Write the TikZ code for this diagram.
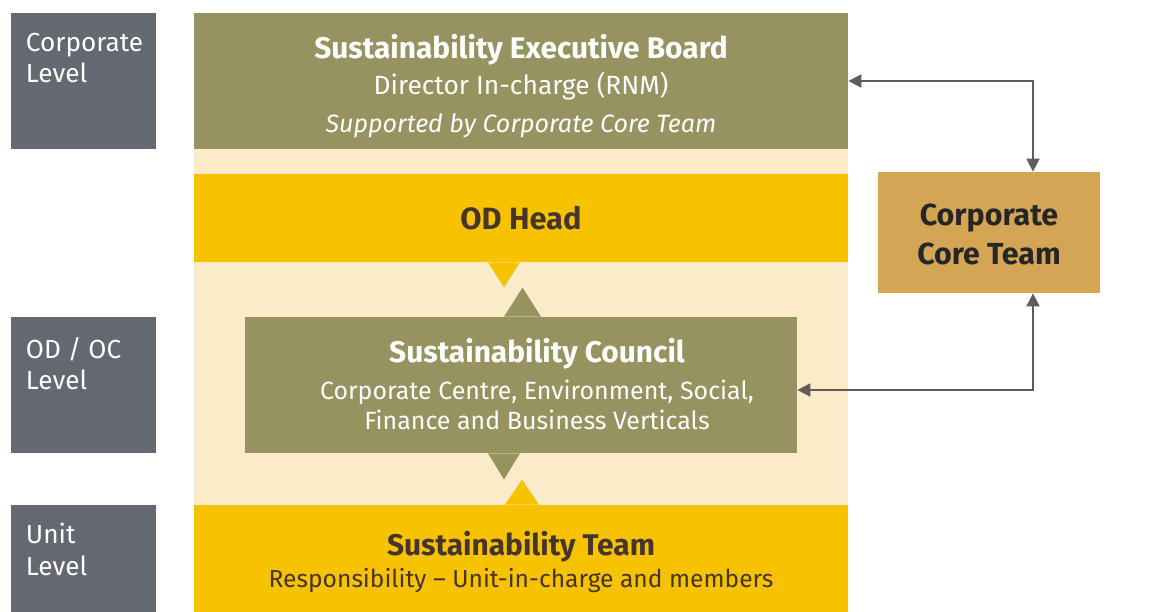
\documentclass[tikz,border=0pt]{standalone}
\usepackage{fontspec}
\setmainfont{Fira Sans}
\usetikzlibrary{arrows.meta,positioning}

\definecolor{olive}{HTML}{979360}
\definecolor{gold}{HTML}{F7C300}
\definecolor{cream}{HTML}{FBEBC8}
\definecolor{slate}{HTML}{646870}
\definecolor{ochre}{HTML}{D4A554}
\definecolor{arrowgrey}{HTML}{5F5C5C}
\definecolor{darkbrown}{HTML}{46352A}

\begin{document}
\begin{tikzpicture}[
    level/.style={rectangle,fill=slate,minimum width=2.9cm,inner sep=0pt},
    leveltext/.style={anchor=north west,inner sep=0pt,text=white,align=left,font=\fontsize{14.9}{18}\selectfont},
    olivebox/.style={rectangle,fill=olive,inner sep=0pt},
    goldbox/.style={rectangle,fill=gold,inner sep=0pt},
    whitetext/.style={inner sep=0pt,text=white,align=center},
    browntext/.style={inner sep=0pt,text=darkbrown,align=center},
    link/.style={draw=arrowgrey,line width=1.1pt,{Triangle[length=0.26cm,width=0.26cm]}-{Triangle[length=0.26cm,width=0.26cm]}}
  ]
    \useasboundingbox (0,0) rectangle (23.02,-12.24);

    % Level labels
    \node[level,minimum height=2.72cm] (corp) at (1.67,-1.62) {};
    \node[level,minimum height=2.72cm] (odoc) at (1.67,-7.7) {};
    \node[level,minimum height=2.14cm] (unit) at (1.67,-11.17) {};
    \node[leveltext] (corpT) at ([xshift=0.3cm,yshift=-0.4cm]corp.north west) {Corporate\\Level};
    \node[leveltext] (odocT) at ([xshift=0.3cm,yshift=-0.4cm]odoc.north west) {OD / OC\\Level};
    \node[leveltext] (unitT) at ([xshift=0.3cm,yshift=-0.36cm]unit.north west) {Unit\\Level};

    % Background band
    \node[rectangle,fill=cream,minimum width=13.08cm,minimum height=7.4cm,inner sep=0pt] (band) at (10.42,-6.44) {};

    % Corporate level
    \node[olivebox,minimum width=13.08cm,minimum height=2.72cm] (board) at (10.42,-1.62) {};
    \node[whitetext,font=\fontsize{14}{20.4}\selectfont] (boardT) at ([yshift=-0.1cm]board.center)
      {{\fontsize{17}{20}\selectfont\bfseries Sustainability Executive Board}\\
       {\fontsize{15}{18}\selectfont Director In-charge (RNM)}\\[1pt]
       {\fontsize{14.3}{18}\selectfont\itshape Supported by Corporate Core Team}};

    % OD / OC level
    \node[goldbox,minimum width=13.08cm,minimum height=1.76cm] (odhead) at (10.42,-4.36) {};
    \node[browntext,font=\fontsize{17.5}{20}\selectfont\bfseries] (odheadT) at (odhead.center) {OD Head};
    \node[olivebox,minimum width=11.04cm,minimum height=2.72cm] (council) at (10.42,-7.7) {};
    \node[whitetext,font=\fontsize{14.2}{17}\selectfont] (councilT) at ([xshift=0.32cm,yshift=0.02cm]council.center)
      {{\fontsize{17}{20}\selectfont\bfseries Sustainability Council}\\[4pt]
       Corporate Centre, Environment, Social,\\
       Finance and Business Verticals};

    % Unit level
    \node[goldbox,minimum width=13.08cm,minimum height=2.14cm] (team) at (10.42,-11.17) {};
    \node[browntext,font=\fontsize{14}{18.7}\selectfont] (teamT) at ([yshift=-0.07cm]team.center)
      {{\fontsize{17}{20}\selectfont\bfseries Sustainability Team}\\
       Responsibility -- Unit-in-charge and members};

    % Pointers between the boxes
    \fill[gold] ([xshift=-0.66cm]odhead.south) -- ([xshift=-0.02cm]odhead.south) -- ([xshift=-0.34cm,yshift=-0.5cm]odhead.south) -- cycle;
    \fill[olive] ([xshift=-0.34cm]council.north) -- ([xshift=0.4cm]council.north) -- ([xshift=0.03cm,yshift=0.58cm]council.north) -- cycle;
    \fill[olive] ([xshift=-0.66cm]council.south) -- ([xshift=-0.02cm]council.south) -- ([xshift=-0.34cm,yshift=-0.52cm]council.south) -- cycle;
    \fill[gold] ([xshift=-0.32cm]team.north) -- ([xshift=0.36cm]team.north) -- ([xshift=0.02cm,yshift=0.5cm]team.north) -- cycle;

    % Core team and its links
    \node[rectangle,fill=ochre,inner sep=0pt,minimum width=4.44cm,minimum height=2.42cm] (core) at (19.78,-4.65) {};
    \node[inner sep=0pt,align=center,text={black!85},font=\fontsize{17.3}{22}\selectfont\bfseries] (coreT)
      at ([yshift=-0.04cm]core.center) {Corporate\\Core Team};
    \coordinate (coreN) at ([xshift=0.88cm]core.north);
    \coordinate (coreS) at ([xshift=0.88cm]core.south);
    \draw[link] (board.east) -| (coreN);
    \draw[link] ([yshift=-0.1cm]council.east) -| (coreS);

  \end{tikzpicture}
\end{document}
